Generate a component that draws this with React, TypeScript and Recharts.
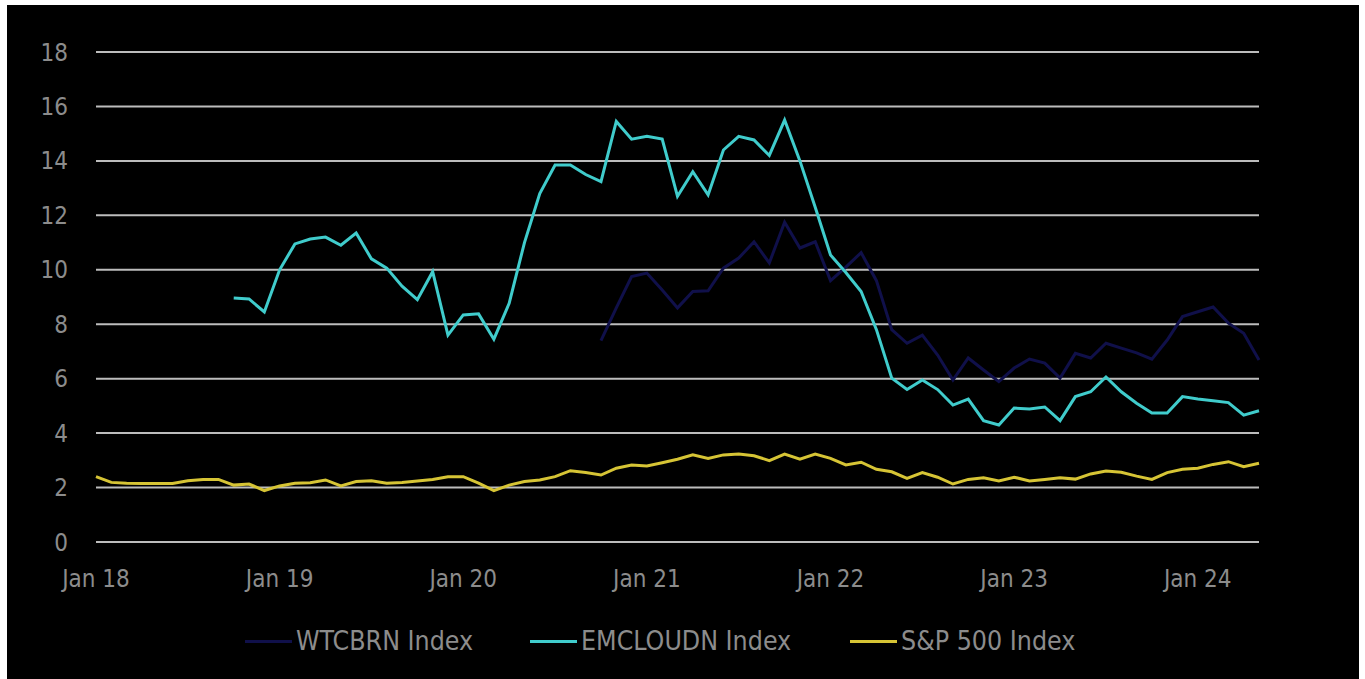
import React from 'react';
import { LineChart, Line, XAxis, YAxis, CartesianGrid } from 'recharts';

const monthNames = ['Jan', 'Feb', 'Mar', 'Apr', 'May', 'Jun', 'Jul', 'Aug', 'Sep', 'Oct', 'Nov', 'Dec'];
const years = ['18', '19', '20', '21', '22', '23', '24'];
// Jan 18 .. May 24, monthly
const months: string[] = years
  .flatMap((y) => monthNames.map((m) => `${m} ${y}`))
  .slice(0, 77);

const xTicks = ['Jan 18', 'Jan 19', 'Jan 20', 'Jan 21', 'Jan 22', 'Jan 23', 'Jan 24'];
const yTicks = [0, 2, 4, 6, 8, 10, 12, 14, 16, 18];

const wtcbrn: (number | null)[] = [
  null, null, null, null, null, null, null, null, null, null, null, null,
  null, null, null, null, null, null, null, null, null, null, null, null,
  null, null, null, null, null, null, null, null, null,
  7.4, 8.6, 9.75, 9.88, 9.26, 8.6, 9.2, 9.23, 10.06, 10.43, 11.03, 10.25, 11.75,
  10.8, 11.03, 9.6, 10.1, 10.63, 9.6, 7.8, 7.3, 7.6, 6.87, 5.95, 6.76, 6.32, 5.89,
  6.39, 6.72, 6.57, 6.02, 6.93, 6.76, 7.3, 7.12, 6.95, 6.72, 7.42, 8.28, 8.46, 8.63,
  8.04, 7.67, 6.69,
];

const emcloudn: (number | null)[] = [
  null, null, null, null, null, null, null, null, null,
  8.96, 8.93, 8.45, 10.0, 10.95, 11.13, 11.2, 10.9, 11.35, 10.4, 10.06, 9.4, 8.9,
  9.93, 7.6, 8.34, 8.38, 7.45, 8.77, 11.0, 12.8, 13.85, 13.85, 13.5, 13.24, 15.45,
  14.8, 14.9, 14.8, 12.7, 13.6, 12.75, 14.4, 14.9, 14.77, 14.2, 15.5, 14.0, 12.3,
  10.54, 9.9, 9.2, 7.8, 6.02, 5.6, 5.95, 5.6, 5.03, 5.25, 4.46, 4.3, 4.92, 4.89,
  4.96, 4.46, 5.34, 5.52, 6.06, 5.52, 5.1, 4.74, 4.74, 5.34, 5.25, 5.19, 5.12,
  4.66, 4.82,
];

const sp500: number[] = [
  2.4, 2.19, 2.16, 2.15, 2.15, 2.15, 2.25, 2.3, 2.3, 2.09, 2.13, 1.89, 2.06, 2.16,
  2.18, 2.28, 2.06, 2.22, 2.25, 2.16, 2.19, 2.24, 2.3, 2.4, 2.4, 2.16, 1.89, 2.09,
  2.22, 2.28, 2.4, 2.62, 2.55, 2.46, 2.71, 2.83, 2.79, 2.91, 3.04, 3.2, 3.07, 3.2,
  3.23, 3.17, 2.99, 3.23, 3.04, 3.23, 3.07, 2.83, 2.93, 2.67, 2.58, 2.34, 2.55,
  2.38, 2.13, 2.3, 2.36, 2.24, 2.38, 2.24, 2.3, 2.36, 2.31, 2.5, 2.61, 2.56, 2.42,
  2.3, 2.55, 2.67, 2.71, 2.85, 2.95, 2.77, 2.89,
];

const series = [
  { key: 'wtcbrn', name: 'WTCBRN Index', color: '#10104a' },
  { key: 'emcloudn', name: 'EMCLOUDN Index', color: '#40cccc' },
  { key: 'sp500', name: 'S&P 500 Index', color: '#d6c435' },
];

// left edge of each legend item (swatch start)
const legendLefts = [238, 523, 843];

const data = months.map((m, i) => ({
  m,
  wtcbrn: wtcbrn[i],
  emcloudn: emcloudn[i],
  sp500: sp500[i],
}));

const FONT = '"Liberation Sans Narrow", "DejaVu Sans Condensed", "Roboto Condensed", "Open Sans", sans-serif';
const TEXT = '#8c8c8c';

export default function App() {
  return (
    <div
      style={{
        position: 'absolute',
        left: 7,
        top: 5,
        width: 1352,
        height: 674,
        background: '#000',
        fontFamily: FONT,
      }}
    >
      <LineChart width={1352} height={674} data={data} margin={{ top: 47, right: 100, left: 0, bottom: 0 }}>
        <CartesianGrid vertical={false} stroke="#bcbcbc" strokeWidth={2} />
        <XAxis
          dataKey="m"
          ticks={xTicks}
          interval={0}
          axisLine={false}
          tickLine={false}
          tickMargin={22}
          height={137}
          tick={{ fill: TEXT, fontSize: 24, fontFamily: FONT }}
        />
        <YAxis
          domain={[0, 18]}
          ticks={yTicks}
          width={89}
          axisLine={false}
          tickLine={false}
          tickMargin={22}
          tick={{ fill: TEXT, fontSize: 24, fontFamily: FONT }}
        />
        {series.map((s) => (
          <Line
            key={s.key}
            type="linear"
            dataKey={s.key}
            name={s.name}
            stroke={s.color}
            strokeWidth={3}
            dot={false}
            activeDot={false}
            isAnimationActive={false}
          />
        ))}
      </LineChart>
      {/* legend */}
      {series.map((s, i) => (
        <div
          key={s.key}
          style={{
            position: 'absolute',
            left: legendLefts[i],
            top: 621,
            display: 'flex',
            alignItems: 'center',
            color: TEXT,
            fontSize: 26.5,
            lineHeight: '30px',
            whiteSpace: 'nowrap',
          }}
        >
          <div style={{ width: 47, height: 3, background: s.color, marginRight: 4 }} />
          <span>{s.name}</span>
        </div>
      ))}
    </div>
  );
}
